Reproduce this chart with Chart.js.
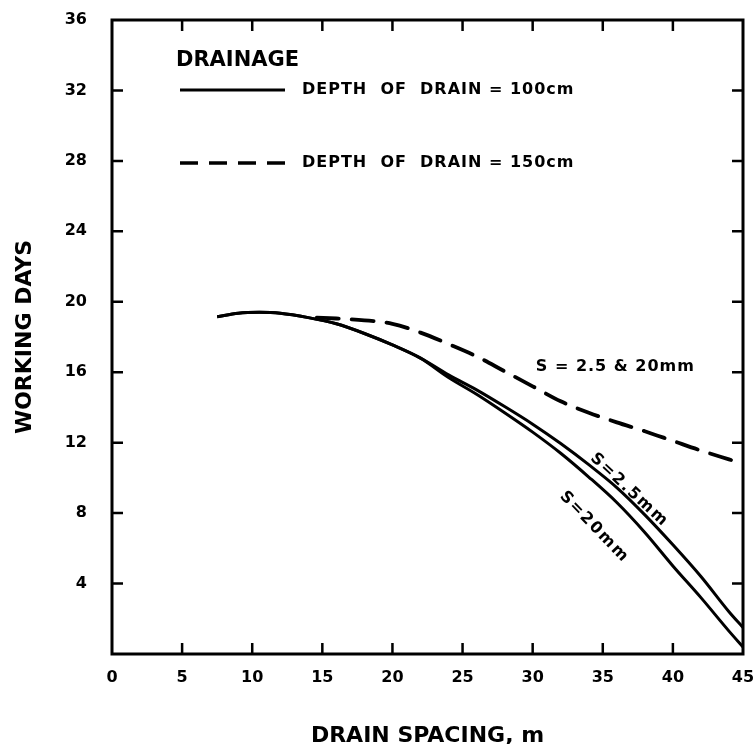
<!DOCTYPE html>
<html>
<head>
<meta charset="utf-8">
<script src="https://cdn.jsdelivr.net/npm/chart.js@4.4.0/dist/chart.umd.min.js"></script>
<style>
  body { margin: 0; background: #fff; }
  #wrap { width: 756px; height: 744px; }
</style>
</head>
<body>
<div id="wrap"><canvas id="drainChart" width="756" height="744"></canvas></div>
<script>
// drain spacing (m) and working days
const spacing100 = [7.5, 9, 10.5, 12, 14, 16, 18, 20, 22, 24, 26, 28, 30, 32, 34, 36, 38, 40, 42, 44, 45];
const days100S25 = [19.15, 19.35, 19.4, 19.35, 19.1, 18.75, 18.2, 17.55, 16.8, 15.85, 15.0, 14.05, 13.05, 11.95, 10.75, 9.45, 7.9, 6.2, 4.4, 2.4, 1.5];
const days100S20 = [19.15, 19.35, 19.4, 19.35, 19.1, 18.75, 18.2, 17.55, 16.8, 15.7, 14.75, 13.7, 12.6, 11.4, 10.05, 8.6, 6.9, 5.0, 3.2, 1.3, 0.4];
const spacing150 = [14.6, 16, 18, 20, 22, 24, 26, 28, 30, 32, 34, 36, 38, 40, 42, 44, 45];
const days150 = [19.1, 19.05, 18.95, 18.75, 18.25, 17.6, 16.9, 16.05, 15.2, 14.35, 13.7, 13.15, 12.65, 12.1, 11.55, 11.05, 10.8];

const xTicks = [0, 5, 10, 15, 20, 25, 30, 35, 40, 45];
const yTicks = [0, 4, 8, 12, 16, 20, 24, 28, 32, 36];

const FONT = 'DejaVu Sans';

function toPoints(xs, ys) {
  return xs.map((x, i) => ({ x: x, y: ys[i] }));
}

// frame, inward ticks, legend and curve labels
const decorations = {
  id: 'decorations',
  afterDatasetsDraw(chart) {
    const ctx = chart.ctx;
    const a = chart.chartArea;
    const sx = chart.scales.x;
    const sy = chart.scales.y;
    const tl = 11;
    ctx.save();
    ctx.strokeStyle = '#000';
    ctx.lineWidth = 3;
    ctx.strokeRect(a.left, a.top, a.right - a.left, a.bottom - a.top);
    ctx.lineWidth = 2.5;
    ctx.beginPath();
    xTicks.slice(1, -1).forEach(v => {
      const px = sx.getPixelForValue(v);
      ctx.moveTo(px, a.bottom); ctx.lineTo(px, a.bottom - tl);
      ctx.moveTo(px, a.top); ctx.lineTo(px, a.top + tl);
    });
    yTicks.slice(1, -1).forEach(v => {
      const py = sy.getPixelForValue(v);
      ctx.moveTo(a.left, py); ctx.lineTo(a.left + tl, py);
      ctx.moveTo(a.right, py); ctx.lineTo(a.right - tl, py);
    });
    ctx.stroke();

    // legend
    ctx.fillStyle = '#000';
    ctx.textBaseline = 'middle';
    ctx.textAlign = 'left';
    ctx.font = 'bold 21px "' + FONT + '"';
    ctx.fillText('DRAINAGE', 176, 61);
    ctx.lineWidth = 3;
    ctx.beginPath();
    ctx.moveTo(180, 90); ctx.lineTo(285, 90);
    ctx.stroke();
    ctx.setLineDash([18, 11]);
    ctx.lineWidth = 3.5;
    ctx.beginPath();
    ctx.moveTo(180, 163); ctx.lineTo(285, 163);
    ctx.stroke();
    ctx.setLineDash([]);
    ctx.font = 'bold 16px "' + FONT + '"';
    ctx.letterSpacing = '1px';
    ctx.fillText('DEPTH  OF  DRAIN = 100cm', 302, 90);
    ctx.fillText('DEPTH  OF  DRAIN = 150cm', 302, 163);

    // curve labels
    ctx.font = 'bold 16px "' + FONT + '"';
    ctx.textAlign = 'center';
    ctx.fillText('S = 2.5 & 20mm', sx.getPixelForValue(35.9), sy.getPixelForValue(16.3));
    const rotLabel = (txt, x, y, deg) => {
      ctx.save();
      ctx.translate(sx.getPixelForValue(x), sy.getPixelForValue(y));
      ctx.rotate(deg * Math.PI / 180);
      ctx.letterSpacing = '2px';
      ctx.fillText(txt, 0, 0);
      ctx.restore();
    };
    rotLabel('S=2.5mm', 36.9, 9.3, 43);
    rotLabel('S=20mm', 34.4, 7.2, 46);
    ctx.restore();
  }
};

const ctx = document.getElementById('drainChart').getContext('2d');
const drainChart = new Chart(ctx, {
  type: 'scatter',
  data: {
    datasets: [{
      label: 'Depth of drain = 100cm, S = 2.5mm',
      data: toPoints(spacing100, days100S25),
      showLine: true,
      borderColor: '#000',
      borderWidth: 3,
      pointRadius: 0,
      cubicInterpolationMode: 'monotone'
    }, {
      label: 'Depth of drain = 100cm, S = 20mm',
      data: toPoints(spacing100, days100S20),
      showLine: true,
      borderColor: '#000',
      borderWidth: 3,
      pointRadius: 0,
      cubicInterpolationMode: 'monotone'
    }, {
      label: 'Depth of drain = 150cm, S = 2.5 & 20mm',
      data: toPoints(spacing150, days150),
      showLine: true,
      borderColor: '#000',
      borderWidth: 3.8,
      borderDash: [22, 13],
      borderCapStyle: 'round',
      pointRadius: 0,
      cubicInterpolationMode: 'monotone'
    }]
  },
  options: {
    responsive: false,
    animation: false,
    layout: { padding: { top: 20, right: 13, left: 0, bottom: 0 } },
    plugins: {
      legend: { display: false },
      tooltip: { enabled: false }
    },
    scales: {
      x: {
        type: 'linear',
        min: 0,
        max: 45,
        afterFit: s => { s.height = 90; s.paddingLeft = 0; s.paddingRight = 0; },
        afterBuildTicks: s => { s.ticks = xTicks.map(v => ({ value: v })); },
        grid: { display: false, drawTicks: false },
        border: { display: false },
        ticks: {
          color: '#000',
          padding: 14,
          maxRotation: 0,
          font: { family: FONT, size: 16, weight: 'bold' }
        },
        title: {
          display: true,
          text: 'DRAIN SPACING, m',
          color: '#000',
          padding: { top: 0, bottom: -3 },
          font: { family: FONT, size: 22, weight: 'bold', lineHeight: 1 }
        }
      },
      y: {
        min: 0,
        max: 36,
        afterFit: s => { s.width = 112; s.paddingTop = 0; s.paddingBottom = 0; },
        afterBuildTicks: s => { s.ticks = yTicks.map(v => ({ value: v })); },
        grid: { display: false, drawTicks: false },
        border: { display: false },
        ticks: {
          color: '#000',
          padding: 25,
          font: { family: FONT, size: 16, weight: 'bold' },
          callback: v => v === 0 ? '' : v
        },
        title: {
          display: true,
          text: 'WORKING DAYS',
          color: '#000',
          padding: { top: 14, bottom: 0 },
          font: { family: FONT, size: 22, weight: 'bold', lineHeight: 1 }
        }
      }
    }
  },
  plugins: [decorations]
});
</script>
</body>
</html>
